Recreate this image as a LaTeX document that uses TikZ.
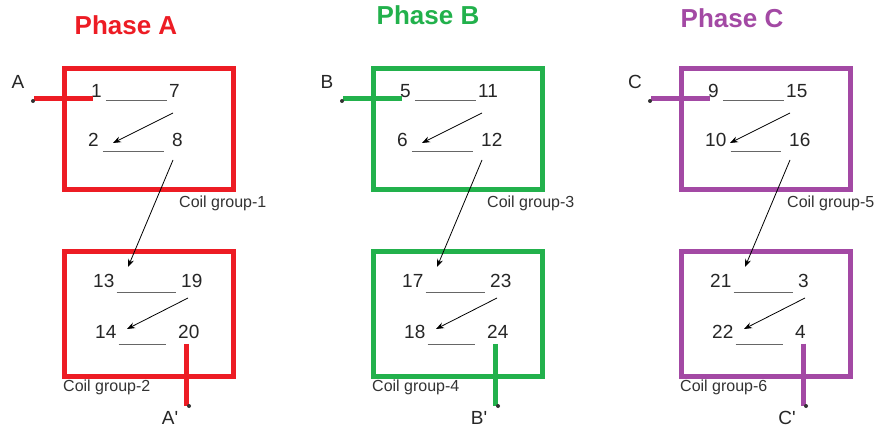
\documentclass[tikz,border=0pt]{standalone}
\usepackage{fontspec}
\setmainfont{Liberation Sans}
\usepackage{xcolor}
\usepackage{tikz}
\usetikzlibrary{arrows.meta}
\definecolor{phasered}{RGB}{237, 28, 36}
\definecolor{phasegreen}{RGB}{34, 177, 76}
\definecolor{phasepurple}{RGB}{163, 73, 164}

\begin{document}
\begin{tikzpicture}[
    x=1pt, y=-1pt,
    num/.style={anchor=west, inner sep=0pt, font=\fontsize{19}{19}\selectfont, text=black!85},
    termlabel/.style={inner sep=0pt, font=\fontsize{19}{19}\selectfont, text=black!85},
    coillabel/.style={anchor=west, inner sep=0pt, font=\fontsize{16}{16}\selectfont, text=black!80},
    phasetitle/.style={inner sep=0pt, font=\fontsize{26}{26}\selectfont\bfseries},
    frame/.style={line width=5pt},
    lead/.style={line width=5pt},
    bar/.style={draw=black!60, line width=0.9pt},
    arrow/.style={-{Stealth[length=8pt, width=6pt]}, line width=0.8pt},
]

\fill[white] (0,0) rectangle (881,430);
\useasboundingbox (0,0) rectangle (881,430);

\foreach \s/\col/\ph/\tx/\ty/\na/\nb/\nc/\nd/\ne/\nf/\ng/\nh/\cu/\cl/\cx in {
    0/phasered/A/126/25/1/7/2/8/13/19/14/20/1/2/179,
    309/phasegreen/B/119/15/5/11/6/12/17/23/18/24/3/4/178,
    617/phasepurple/C/115/18/9/15/10/16/21/3/22/4/5/6/170} {
\begin{scope}[xshift=\s pt]
  \node[phasetitle, text=\col] (title\ph) at (\tx,\ty) {Phase \ph};

  % upper coil group
  \draw[frame, draw=\col] (64,69) rectangle (233,190);
  \node[num] (ua\ph) at (91,91)   {\na};
  \node[num] (ub\ph) at (169,91)  {\nb};
  \node[num] (uc\ph) at (88,140)  {\nc};
  \node[num] (ud\ph) at (172,140) {\nd};
  \node[coillabel] (cu\ph) at (\cx,203) {Coil group-\cu};

  % lower coil group
  \draw[frame, draw=\col] (64,252) rectangle (233,376);
  \node[num] (la\ph) at (93,281)  {\ne};
  \node[num] (lb\ph) at (181,281) {\nf};
  \node[num] (lc\ph) at (95,332)  {\ng};
  \node[num] (ld\ph) at (178,332) {\nh};
  \node[coillabel] (cl\ph) at (63,387) {Coil group-\cl};

  % bars under the numbers
  \draw[bar] ([shift={(4,9)}]ua\ph.east)  -- ([shift={(-2,9)}]ub\ph.west);
  \draw[bar] ([shift={(4,11)}]uc\ph.east) -- ([shift={(-8,11)}]ud\ph.west);
  \draw[bar] ([shift={(2,11)}]la\ph.east) -- ([shift={(-5,11)}]lb\ph.west);
  \draw[bar] ([shift={(2,12)}]lc\ph.east) -- ([shift={(-12,12)}]ld\ph.west);

  % arrows
  \draw[arrow] ([shift={(4,22)}]ub\ph.west)  -- ([shift={(25,3)}]uc\ph.west);
  \draw[arrow] ([shift={(1,20)}]ud\ph.west)  -- ([shift={(35,-14)}]la\ph.west);
  \draw[arrow] ([shift={(7,17)}]lb\ph.west)  -- ([shift={(32,-3)}]lc\ph.west);

  % terminals
  \coordinate (in\ph) at (34,99);
  \coordinate (out\ph) at (186,406);
  \draw[lead, draw=\col] (in\ph) -- ([xshift=2pt]in\ph -| ua\ph.west);
  \draw[lead, draw=\col, shorten <=5pt] (out\ph |- ld\ph.south) -- (out\ph);
  \fill[black!80] ([shift={(-1,2)}]in\ph) circle (2);
  \fill[black!80] ([shift={(3,0)}]out\ph) circle (2);
  \node[termlabel] (tin\ph) at (18,82) {\ph};
  \node[termlabel] (tout\ph) at (170,418) {\ph\textquotesingle};
\end{scope}
}

\end{tikzpicture}
\end{document}
